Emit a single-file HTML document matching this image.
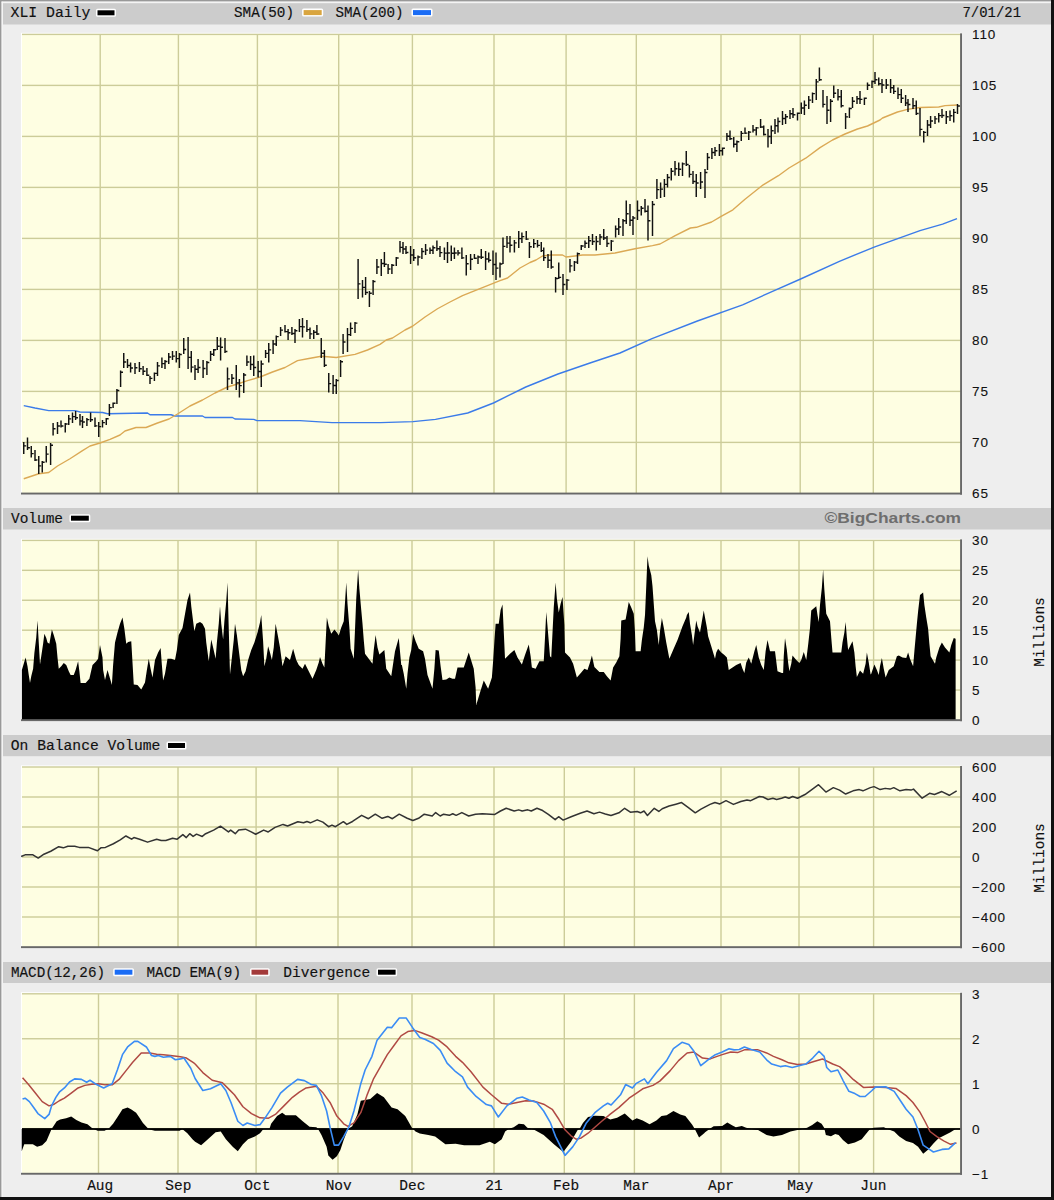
<!DOCTYPE html><html><head><meta charset="utf-8"><style>html,body{margin:0;padding:0;background:#eeeeee;width:1054px;height:1200px;overflow:hidden}svg{display:block}.m{font-family:"Liberation Mono",monospace;font-size:14.5px;fill:#111;stroke:#111;stroke-width:0.15px}.s{font-family:"Liberation Sans",sans-serif;font-size:13.5px;fill:#111;letter-spacing:0.9px;stroke:#111;stroke-width:0.1px}</style></head><body><svg width="1054" height="1200" viewBox="0 0 1054 1200"><rect x="0" y="0" width="1054" height="1200" fill="#eeeeee"/><rect x="0" y="0" width="1054" height="1.6" fill="#999"/><rect x="0" y="0" width="1.6" height="1200" fill="#999"/><rect x="1.6" y="1.6" width="1050" height="1" fill="#f8f8f8"/><rect x="1.6" y="1.6" width="1" height="1196" fill="#f8f8f8"/><rect x="1051" y="0" width="3" height="1200" fill="#111"/><rect x="0" y="1197" width="1054" height="3" fill="#111"/><rect x="3" y="3.2" width="1048" height="21.3" fill="#cccccc"/><rect x="3" y="508" width="1048" height="21.5" fill="#cccccc"/><rect x="3" y="735" width="1048" height="21.2" fill="#cccccc"/><rect x="3" y="962" width="1048" height="21" fill="#cccccc"/><rect x="21" y="32.8" width="940" height="460.6" fill="#fff"/><rect x="22" y="34.4" width="939" height="459" fill="#fefee2"/><rect x="99.5" y="34.4" width="1.4" height="459" fill="#cccc99"/><rect x="177.7" y="34.4" width="1.4" height="459" fill="#cccc99"/><rect x="256.7" y="34.4" width="1.4" height="459" fill="#cccc99"/><rect x="338" y="34.4" width="1.4" height="459" fill="#cccc99"/><rect x="411.7" y="34.4" width="1.4" height="459" fill="#cccc99"/><rect x="493.3" y="34.4" width="1.4" height="459" fill="#cccc99"/><rect x="565.4" y="34.4" width="1.4" height="459" fill="#cccc99"/><rect x="635.6" y="34.4" width="1.4" height="459" fill="#cccc99"/><rect x="720.3" y="34.4" width="1.4" height="459" fill="#cccc99"/><rect x="799.5" y="34.4" width="1.4" height="459" fill="#cccc99"/><rect x="872.6" y="34.4" width="1.4" height="459" fill="#cccc99"/><rect x="22" y="33.7" width="939" height="1.4" fill="#cccc99"/><rect x="22" y="84.7" width="939" height="1.4" fill="#cccc99"/><rect x="22" y="135.7" width="939" height="1.4" fill="#cccc99"/><rect x="22" y="186.7" width="939" height="1.4" fill="#cccc99"/><rect x="22" y="237.7" width="939" height="1.4" fill="#cccc99"/><rect x="22" y="288.7" width="939" height="1.4" fill="#cccc99"/><rect x="22" y="339.7" width="939" height="1.4" fill="#cccc99"/><rect x="22" y="390.7" width="939" height="1.4" fill="#cccc99"/><rect x="22" y="441.7" width="939" height="1.4" fill="#cccc99"/><polyline points="23.75,405.6 35,408 48.75,410.6 75,410.6 80,412 102.5,412.5 107.5,413.75 120,413.5 147.5,413 150,414.75 171,414.75 175,416 202.5,416 205,417.5 232.5,417.5 235,419 253.75,419.4 257,420.6 300,420.6 332,422.6 380.6,422.6 413,421.6 435.5,419.4 467.7,413 493.5,403 525.8,387 558,374 590,363 620,353 652,338.7 697.4,321 742.6,304.8 774.8,290.3 800.6,279 839.4,261.3 874.8,246.8 920,230.6 942.6,224.2 957,218.7" fill="none" stroke="#3b7be9" stroke-width="1.4" stroke-linejoin="round"/><polyline points="23.75,478.75 38.75,473.75 48.75,472.5 57.5,466 70,458.75 82.5,450.6 90,446 100,443 110,439.4 120,435 125,431 136,427.5 146,427.5 157.5,423 169,419 177.5,414 190,406 202.5,400 215,393 227.5,387 237.5,384 247.5,380.6 260,377 272.5,372 285,367.5 297.5,360.6 307.5,358.75 321.25,356.25 336.25,357.5 355,354.4 367.5,350 380,344.4 386.25,340 392.5,338 405,330 412.5,326.25 425,317 437.5,308.75 450,302 462.5,295.6 475,290.6 487.5,285.6 500,280.6 507.5,278 520,268 530,262.5 536,260 542.5,256 551,255 562.5,255 566,257 575,256 582.5,255 595,255 615,253 635,248.75 652.5,245.6 660,244 675.2,235.6 690.4,228 696.4,227.3 711.6,222 720.7,216.7 732.9,209.8 745,199.2 763.2,184.8 778.4,175.7 789,168 805.7,158.2 820,147.6 832.5,140 845,134 857.5,129 867.5,126 880,120 882.5,118 897.5,112 907.5,109.4 920,107.5 938.75,107 945,105.6 957.5,105" fill="none" stroke="#dba955" stroke-width="1.4" stroke-linejoin="round"/><path d="M23.75 442V454M23.75 445.88H26.15M27.5 437.5V450M27.5 447.75H29.9M31.25 446V457.5M31.25 453.62H33.65M35 450V461M35 459.9H37.4M38.75 456V474M38.75 465.87H41.15M42.25 461V472.5M42.25 462.15H44.65M46.25 446V462.5M46.25 454.13H48.65M50.6 443V465M50.6 445.2H53M53.1 423V435.6M53.1 428.65H55.5M57.5 422V434M57.5 426.03H59.9M61 420.6V427.5M61 425.9H63.4M65.25 423V432.5M65.25 423.95H67.65M68.75 415V425M68.75 418.88H71.15M72.5 412.5V423M72.5 416.63H74.9M75.6 411V420M75.6 417.65H78M80 414V425.6M80 420.9H82.4M82.5 416V428M82.5 422H84.9M86.9 418V426M86.9 419.63H89.3M90.6 412.5V422M90.6 419.75H93M95 417.5V427M95 425.87H97.4M98.75 422V437M98.75 426.63H101.15M102.5 420V427.5M102.5 422.63H104.9M106.25 418V425M106.25 418.8H108.65M109.4 404V416M109.4 407.63H111.8M113.1 402.5V408M113.1 403.3H115.5M116.9 389V404M116.9 390.5H119.3M120.6 370.6V387M120.6 372.24H123M123.75 353V368M123.75 362H126.15M127.5 359V368M127.5 365.5H129.9M130.6 362.5V372.5M130.6 368H133M135 363V374M135 367.75H137.4M139.4 362V372M139.4 368.75H141.8M143.1 366V375M143.1 371.25H145.5M146.9 368V376M146.9 375.2H149.3M150 376V384M150 378.38H152.4M154.4 372.5V381M154.4 373.35H156.8M157.5 362V376M157.5 365.88H159.9M161.9 357.5V368M161.9 363.62H164.3M165 360V369M165 361.5H167.4M168.75 353V364M168.75 357H171.15M172.5 351V360M172.5 356.12H174.9M176.25 351V362.5M176.25 358.62H178.65M179.4 353V368M179.4 354.5H181.8M183.75 338V354M183.75 349.5H186.15M188.1 337V369M188.1 357.37H190.5M191.25 351V372.5M191.25 367.12H193.65M195 365V380M195 369.25H197.4M198.1 359V373M198.1 367.5H200.5M203.1 360V378M203.1 368.5H205.5M206.9 361V375M206.9 362.4H209.3M210.6 351V361M210.6 354.25H213M213.75 349V356M213.75 349.8H216.15M217.25 337V350M217.25 346.27H219.65M220.6 337.5V360.6M220.6 347.28H223M225 338V353M225 351.5H227.4M227.5 367.5V390M227.5 378.87H229.9M231.9 374V384M231.9 378.25H234.3M236.25 365V390M236.25 382.87H238.65M239.4 379V397.5M239.4 385.63H241.8M243.75 373V393M243.75 375H246.15M246.9 355.6V366M246.9 361.9H249.3M250.6 356V370M250.6 364.4H253M253.75 355.6V376M253.75 367.52H256.15M258.1 361V377.5M258.1 371.52H260.5M261.25 360.6V387M261.25 363.9H263.65M265.6 350V358M265.6 353.38H268M268.75 343V362.5M268.75 349.88H271.15M273.1 340V354M273.1 343.9H275.5M276.25 335.6V346M276.25 336.64H278.65M280.6 327V336M280.6 330.13H283M285 325V332.5M285 331.62H287.4M288.1 329V340M288.1 332.75H290.5M291.9 327V335M291.9 333.5H294.3M295 329V343M295 330.75H297.4M299.4 319V332M299.4 326.62H301.8M302.5 318V337.5M302.5 326.88H304.9M306.9 320V332M306.9 329.62H309.3M310 327.5V339M310 333.87H312.4M313.75 330V339M313.75 332.25H316.15M316.9 325V335M316.9 334H319.3M321.25 338V358M321.25 353.25H323.65M324.4 350V367M324.4 365.3H326.8M328.75 373V392.5M328.75 383.62H331.15M333.1 375V394M333.1 385.5H335.5M336.25 379V394M336.25 380.5H338.65M340.6 360V377M340.6 361.7H343M343.1 334V354M343.1 342H345.5M347.5 328V352M347.5 334.63H349.9M350.6 322.5V336M350.6 328.38H353M355 322V333M355 323.1H357.4M358.1 259V299M358.1 283.87H360.5M362.5 280V297.5M362.5 287.38H364.9M365.6 277V295M365.6 292.5H368M369.4 291V307M369.4 293.25H371.8M373.1 280V295M373.1 281.5H375.5M376.9 259V274M376.9 267H379.3M381.25 259V276M381.25 263.5H383.65M384.4 252V267M384.4 264.25H386.8M388.1 264V274M388.1 269H390.5M391.9 264V274M391.9 265.25H394.3M396.25 257V266M396.25 257.9H398.65M400 241V252.5M400 247.37H402.4M403 242V254M403 249H405.4M406 246V254M406 252.5H408.4M410.6 246V264M410.6 255H413M413.75 249V261M413.75 257.8H416.15M418 255.6V265.6M418 257.05H420.4M421.9 248V259M421.9 251.5H424.3M425.6 244V255M425.6 250.12H428M430 247.5V254M430 250.28H432.4M433 245.6V254M433 247.8H435.4M436.9 240.6V251M436.9 248.65H439.3M440 246V257M440 252.62H442.4M444.4 247.5V260M444.4 253.13H446.8M447.5 242V263M447.5 252.9H449.9M451.25 245.6V261M451.25 253.28H453.65M454.4 247.5V259M454.4 253.03H456.8M458 250V255.6M458 253.02H460.4M461.9 247.5V259M461.9 257.85H464.3M466.25 255V275.6M466.25 263.65H468.65M470.6 254V270M470.6 259.25H473M474.4 254V259M474.4 258.15H476.8M478 255.6V264M478 256.9H480.4M481.25 249V259M481.25 257.25H483.65M485.6 251V270M485.6 259H488M488.75 252.5V262.5M488.75 260.15H491.15M493 250.6V275M493 264.52H495.4M496 252.5V280M496 268.12H498.4M500 262.5V277.5M500 264H502.4M503 237.5V264M503 246.38H505.4M507 236V248M507 243.12H509.4M510 236V252.5M510 245.25H512.4M514.4 240V252.5M514.4 242.88H516.8M518.75 231V248M518.75 238.63H521.15M521.9 232.5V243M521.9 236.63H524.3M526.25 231V240M526.25 239.1H528.65M529.4 242V258M529.4 246.75H531.8M533.75 239V248M533.75 243.62H536.15M537.5 240V247.5M537.5 245.37H539.9M541.25 242V252M541.25 250.62H543.65M543.75 247.5V261M543.75 257.62H546.15M548 254V268M548 260.34H550.4M551.25 250.6V268.75M551.25 266.94H553.65M555.6 277V292.5M555.6 278.55H558M558.75 262.5V279M558.75 277.35H561.15M563 274V295M563 284.5H565.4M566.9 279V290M566.9 280.1H569.3M570 259V272.5M570 265.87H572.4M574.4 261V271M574.4 262.13H576.8M577.5 252.5V264M577.5 253.65H579.9M581.25 245V250M581.25 245.9H583.65M585 240.6V248M585 243.15H587.4M588.75 236V248M588.75 240.75H591.15M592.5 234V245M592.5 241.4H594.9M596.25 236V250.6M596.25 241.4H598.65M600 234V245M600 237H602.4M603.75 229V240M603.75 238H606.15M607 236V247M607 243.5H609.4M611.25 240V251M611.25 241.1H613.65M615.6 225.6V237.5M615.6 229.03H618M618.75 218V235M618.75 227H621.15M623 219V236M623 220.7H625.4M626.25 200.6V224M626.25 213.65H628.65M630 204V226M630 220.25H632.4M633 216V235M633 217.9H635.4M637.5 200.6V220M637.5 210.55H639.9M641.25 206V215.6M641.25 208.28H643.65M645 199V212.5M645 211.15H647.4M648 205.6V240.6M648 220.8H650.4M652.5 201V236M652.5 204.5H654.9M656.9 179V199M656.9 189.62H659.3M660.6 182.5V198M660.6 189.13H663M664.4 179V197M664.4 184.38H666.8M667.5 174V187.5M667.5 177.53H669.9M671.25 168V180.6M671.25 171.3H673.65M675 161V175.6M675 168.77H677.4M678.75 162.5V176M678.75 169.25H681.15M682.5 162.5V176M682.5 163.88H684.9M686.25 151V166M686.25 164.5H688.65M689.4 165V177.5M689.4 174.37H691.8M693 171V184M693 181.5H695.4M696.25 174V197M696.25 183H698.65M700.6 172V189M700.6 182H703M705 169V198M705 172.5H707.4M707.5 153V170M707.5 157.5H709.9M711.9 148V159M711.9 152.5H714.3M715 147V156M715 150.75H717.4M719.4 144V156M719.4 150.77H721.8M722.5 147.5V155.6M722.5 148.31H724.9M726.9 133V141M726.9 136.15H729.3M730 130.6V140M730 138.77H732.4M733.75 137V147.5M733.75 144.27H736.15M736.9 140.6V152M736.9 141.74H739.3M741.25 131V141M741.25 133.38H743.65M745 127.5V134M745 133.12H747.4M748.75 131V140M748.75 132.13H751.15M753 125V132.5M753 130.02H755.4M756.25 127V135.6M756.25 127.86H758.65M760.6 119V128M760.6 127.05H763M763.75 125.6V135.6M763.75 134.42H766.15M768 129V147.5M768 136.53H770.4M771.25 125.6V144M771.25 130.65H773.65M775 119V134M775 125.75H777.4M778 117.5V132.5M778 121.5H780.4M782.5 111V125M782.5 118.5H784.9M785.6 114V124M785.6 116.75H788M790 110V119M790 113.75H792.4M793 108V118M793 114.77H795.4M797.5 112.5V120.6M797.5 113.31H799.9M801.25 102.5V114M801.25 108.03H803.65M804.4 100.6V115M804.4 105.15H806.8M808.75 96V109M808.75 100.13H811.15M812.5 92.5V103M812.5 93.63H814.9M816.25 79V100M816.25 81.88H818.65M819.4 67.5V81M819.4 79.65H821.8M823 90V107.5M823 104.37H825.4M827 96V124M827 110.25H829.4M830.6 99V122M830.6 101.3H833M833.75 85.6V98M833.75 93.3H836.15M838 89V100.6M838 96.77H840.4M841.25 90V107.5M841.25 105.75H843.65M845.6 113V129M845.6 116.88H848M849.4 107.5V118M849.4 108.55H851.8M852.5 97V108M852.5 101.25H854.9M857 96V104M857 98.75H859.4M860 91V104M860 99.37H862.4M864.4 97.5V105M864.4 98.3H866.8M867.5 82.5V90M867.5 85.28H869.9M872 80.6V88M872 81.4H874.4M875 72V84M875 79.77H877.4M878.75 77.5V85.6M878.75 83.77H881.15M882 79V93M882 85H884.4M886.25 79V89M886.25 85H888.65M890.6 79V93M890.6 87.75H893M893.75 85V94M893.75 91.37H896.15M898 87.5V99M898 94.62H900.4M901.25 89V103M901.25 98.25H903.65M905.6 95V106M905.6 103H908M908 99V112M908 104.5H910.4M913 98V109M913 105.65H915.4M916.25 100.6V115M916.25 113.56H918.65M920 108V136M920 129.37H922.4M923.75 131V142.5M923.75 132.38H926.15M927.5 120V136M927.5 125H929.9M930.6 116V128M930.6 121H933M935 116V124M935 118.88H937.4M938.75 113V122.5M938.75 115.63H941.15M942 109V118M942 115.5H944.4M946.25 111V124M946.25 116.65H948.65M950 110.6V121M950 115.78H952.4M953.75 109V122.5M953.75 112.38H956.15M957.5 104V114M957.5 106H959.9" stroke="#111" stroke-width="1.45" fill="none"/><rect x="960.1" y="33.4" width="1.9" height="461.2" fill="#686868"/><rect x="21" y="492.6" width="941" height="1.9" fill="#686868"/><rect x="21" y="538.8" width="940" height="181.2" fill="#fff"/><rect x="22" y="540.4" width="939" height="179.6" fill="#fefee2"/><rect x="97.8" y="540.4" width="1.4" height="179.6" fill="#cccc99"/><rect x="177.3" y="540.4" width="1.4" height="179.6" fill="#cccc99"/><rect x="255.4" y="540.4" width="1.4" height="179.6" fill="#cccc99"/><rect x="337.3" y="540.4" width="1.4" height="179.6" fill="#cccc99"/><rect x="411.3" y="540.4" width="1.4" height="179.6" fill="#cccc99"/><rect x="493.3" y="540.4" width="1.4" height="179.6" fill="#cccc99"/><rect x="563.6" y="540.4" width="1.4" height="179.6" fill="#cccc99"/><rect x="633.7" y="540.4" width="1.4" height="179.6" fill="#cccc99"/><rect x="720.3" y="540.4" width="1.4" height="179.6" fill="#cccc99"/><rect x="798.3" y="540.4" width="1.4" height="179.6" fill="#cccc99"/><rect x="872.9" y="540.4" width="1.4" height="179.6" fill="#cccc99"/><rect x="22" y="539.7" width="939" height="1.4" fill="#cccc99"/><rect x="22" y="569.63" width="939" height="1.4" fill="#cccc99"/><rect x="22" y="599.56" width="939" height="1.4" fill="#cccc99"/><rect x="22" y="629.49" width="939" height="1.4" fill="#cccc99"/><rect x="22" y="659.42" width="939" height="1.4" fill="#cccc99"/><rect x="22" y="689.35" width="939" height="1.4" fill="#cccc99"/><polygon points="21.88,720 21.88,670 25.62,657.5 27.5,666.25 28.75,675 30,683.12 31.25,676.25 33.12,668.75 34.38,653.12 36.25,637.5 37.5,620.62 38.75,642.5 40,664.38 41.25,656.25 43.12,643.75 44.38,633.75 46.25,638.12 47.5,642.5 49.38,643.75 51.88,629.38 53.75,635 56.25,643.75 57.5,657.5 58.75,668.75 61.25,666.25 63.75,663.12 66.25,665 68.75,671.25 70.62,675 73.75,675 75.62,670 78.12,661.25 79.38,671.25 80.62,683.12 85.62,683.12 89.38,678.75 92.5,665 96.25,661.25 98.12,658.75 100,645 102.5,657.5 103.12,670 105,680 107.5,670 109.38,676.25 111.88,685 113.12,665 115,642.5 117.5,632.5 120,623.75 122.5,617.5 124.38,628.75 126.25,643.75 128.12,641.88 131.25,641.25 132.5,662.5 133.75,684.38 137.5,685 141.25,689.38 145,682.5 146.88,670 148.75,658.75 150.62,668.75 152.5,677.5 155,660 158.12,652.5 160.62,648.12 161.88,665 163.12,680.62 165,673.75 167.5,658.75 171.25,658.75 175,660 176.88,650 178.75,635 182.5,628.12 184.38,617.5 187.5,600 190,592.5 191.25,606.25 193.12,621.25 194.38,631.25 196.25,623.75 200,621.88 202.5,623.75 205,628.75 206.25,642.5 208.75,661.25 211.25,639.38 213.12,647.5 215.62,658.75 216.88,642.5 218.75,623.75 220,606.25 221.25,623.75 223.12,639.38 224.38,621.25 226.25,601.25 227.5,582.5 228.75,628.75 230,674.38 231.88,657.5 233.75,640 235,623.75 236.88,635 238.75,650 241.25,670 243.12,676.25 245.62,671.25 248.12,660 251.25,650 254.38,642.5 257.5,632.5 260,622.5 261.25,615 263.12,641.25 264.38,666.25 266.25,658.75 268.12,646.25 270,652.5 271.88,660 273.75,647.5 275.62,623.75 277.5,633.75 280,647.5 282.5,666.25 285.62,656.25 290,660 293.12,648.75 296.25,660 298.75,665 302.5,668.75 305,663.75 308.75,671.25 312.5,678.75 316.25,670 318.75,662.5 320,656.88 322.5,663.75 324.38,667.5 325.62,642.5 326.88,617.5 328.75,626.25 331.25,633.75 334.38,629.38 336.88,632.5 338.75,635.62 341.25,627.5 343.75,621.25 345,602.5 346.25,582.5 347.5,603.75 349.38,627.5 350.62,648.75 353.75,658.75 355,629.38 356.25,598.75 358.12,569.38 359.38,588.75 361.25,610 362.5,623.75 363.75,640 365,653.75 368.75,658.75 372.5,663.75 373.75,650 375.62,635 377.5,647.5 379.38,654.38 384.38,650 386.25,668.75 391.25,676.25 393.12,663.75 395,651.25 398.75,638.12 401.25,665 401.88,665 403.75,673.75 406.25,688.75 407.5,673.75 409.38,657.5 411.25,650 413.12,633.75 415.62,641.25 418.75,648.75 423.12,651.25 425,658.75 427.5,675 432.5,688.75 434.38,668.75 435.62,650 438.75,650.62 440.62,666.25 442.5,680 446.25,679.38 449.38,677.5 452.5,678.75 455,678.75 457.5,667.5 463.75,667.5 468.75,652.5 473.75,668.75 475.62,687.5 476.25,705 480,692.5 483.75,680.62 488.12,688.75 491.88,677.5 493.12,661.25 494.38,641.25 495.62,623.75 498.75,623.75 500.62,610 502.5,604.38 503.75,631.25 505,658.75 510,653.75 514.38,650 517.5,657.5 521.88,664.38 525,655 528.75,644.38 530.62,656.25 531.88,667.5 535.62,668.75 539.38,661.25 543.75,661.25 545,637.5 546.25,611.88 547.5,626.25 548.75,641.25 550,656.25 551.25,657.5 552.5,632.5 553.75,607.5 555.62,582.5 556.88,598.75 558.75,612.5 560.62,603.75 562.5,596.88 564.38,625 565,652.5 570,657.5 573.12,663.75 576.88,677.5 581.25,672.5 584.38,668.75 587.5,670 590,662.5 591.88,655.62 594.38,666.88 599.38,671.88 603.75,671.88 606.88,676.25 610.62,680.62 613.12,667.5 616.25,662.5 619.38,656.25 620.62,638.75 621.25,620.62 625.62,619.38 628.75,601.88 631.25,607.5 633.75,613.75 635,632.5 635.62,651.25 640.62,651.25 641.88,640 643.75,627.5 645,615 646.25,586.25 647.5,556.25 648.75,565.62 651.25,575 652.5,586.25 653.75,603.75 655,621.25 656.88,630 658.75,645 660,631.25 661.88,618.12 663.75,627.5 666.25,642.5 669.38,658.75 673.12,650 677.5,640 682.5,626.25 686.25,617.5 686.88,615 688.75,611.88 690,623.75 691.88,635 693.12,645 694.38,635 696.25,620.62 697.5,626.25 700,632.5 701.88,621.25 703.75,610.62 705,617.5 706.88,627.5 708.12,636.25 711.25,646.25 715,658.75 716.25,652.5 718.12,648.75 721.25,652.5 724.38,655 726.88,657.5 728.75,670 732.5,667.5 736.25,665 740.62,663.12 742.5,668.75 744.38,673.12 746.25,662.5 748.75,657.5 751.25,663.75 754.38,651.25 756.25,645 758.75,657.5 761.25,665 763.75,670 765.62,651.25 767.5,640 770,651.25 775,651.25 777.5,671.25 781.88,673.12 783.12,673.12 783.75,656.25 785,638.12 786.88,650 788.12,662.5 789.38,671.25 791.25,663.75 792.5,655.62 796.25,660 799.38,663.12 801.25,660 803.75,651.88 806.25,660 808.12,645 810,628.12 811.25,610.62 816.25,606.25 817.5,615 818.75,621.88 820,605 821.88,587.5 823.12,569.38 824.38,590 826.25,613.75 830,621.25 831.25,637.5 832.5,652.5 841.25,652.5 842.5,642.5 844.38,632.5 845.62,621.88 846.88,637.5 848.12,650 852.5,641.25 854.38,652.5 855.62,666.25 856.88,676.88 860,670.62 863.12,673.75 865.62,663.75 866.88,652.5 868.75,662.5 870.62,674.38 871.25,673.75 874.38,664.38 876.88,670 878.75,675 880,666.25 881.88,658.12 883.75,668.75 885.62,677.5 888.75,670 893.75,666.25 896.88,656.25 898.75,655.62 902.5,657.5 906.25,658.12 908.12,652.5 910,658.75 913.12,666.25 914.38,651.25 915.62,637.5 916.88,623.75 918.12,611.25 920,595 923.12,592.5 924.38,605 926.25,617.5 928.12,628.75 929.38,643.75 930.62,656.25 935,663.75 936.25,657.5 939.38,647.5 941.88,642.5 945,647.5 949.38,652.5 951.25,645 953.75,638.12 955.62,638.75 955.62,720" fill="#000"/><rect x="960.1" y="539.4" width="1.9" height="181.8" fill="#686868"/><rect x="21" y="719.2" width="941" height="1.9" fill="#686868"/><rect x="21" y="765.4" width="940" height="181.6" fill="#fff"/><rect x="22" y="767" width="939" height="180" fill="#fefee2"/><rect x="97.8" y="767" width="1.4" height="180" fill="#cccc99"/><rect x="177.3" y="767" width="1.4" height="180" fill="#cccc99"/><rect x="255.4" y="767" width="1.4" height="180" fill="#cccc99"/><rect x="337.3" y="767" width="1.4" height="180" fill="#cccc99"/><rect x="411.3" y="767" width="1.4" height="180" fill="#cccc99"/><rect x="493.3" y="767" width="1.4" height="180" fill="#cccc99"/><rect x="563.6" y="767" width="1.4" height="180" fill="#cccc99"/><rect x="633.7" y="767" width="1.4" height="180" fill="#cccc99"/><rect x="720.3" y="767" width="1.4" height="180" fill="#cccc99"/><rect x="798.3" y="767" width="1.4" height="180" fill="#cccc99"/><rect x="872.9" y="767" width="1.4" height="180" fill="#cccc99"/><rect x="22" y="766.3" width="939" height="1.4" fill="#cccc99"/><rect x="22" y="796.3" width="939" height="1.4" fill="#cccc99"/><rect x="22" y="826.3" width="939" height="1.4" fill="#cccc99"/><rect x="22" y="856.3" width="939" height="1.4" fill="#cccc99"/><rect x="22" y="886.3" width="939" height="1.4" fill="#cccc99"/><rect x="22" y="916.3" width="939" height="1.4" fill="#cccc99"/><polyline points="21.14,856.49 25.69,854.67 32.53,854.67 38.22,858.09 43.92,854.21 50.75,851.25 58.72,846.7 63.28,847.84 67.84,846.24 74.67,846.24 79.23,847.38 88.34,847.38 97.45,850.8 100.87,847.84 105.42,847.38 113.39,843.74 120.23,839.86 125.92,835.99 131.62,839.18 133.9,837.59 139.59,839.18 147.56,842.14 156.67,839.18 161.23,840.55 165.79,840.55 172.62,838.27 177.18,839.18 182.87,834.62 186.29,837.59 189.7,833.71 193.12,836.45 196.54,834.17 202.23,836.45 205.65,833.71 213.62,830.07 220.46,826.2 228.43,831.89 230.71,830.07 235.26,833.71 238.68,830.07 245.51,829.16 251.21,831.89 255.69,834.21 263.67,830.11 268.22,831.94 275.06,827.38 283.03,824.42 287.59,826.01 297.84,821.69 303.53,822.82 306.95,821.46 310.36,822.82 317.2,819.86 322.89,822.14 328.59,826.7 332,825.1 335.42,826.7 343.39,821.69 346.81,824.42 352.51,821.46 361.62,815.31 368.45,818.72 375.28,814.17 382.12,818.27 387.81,816.45 392.37,818.72 399.2,814.17 407.18,818.27 412.87,820.55 418.56,818.27 424.26,814.17 432.23,815.99 435.65,812.57 440.21,815.99 443.62,814.17 449.32,815.31 452.73,813.71 456.15,815.31 461.85,812.57 468.68,815.99 475.51,814.17 482.35,813.71 494.81,814.42 500.5,811 506.2,808.27 514.17,811 518.72,809.86 522.14,811 527.84,809.86 531.25,811 536.95,808.27 542.64,810.55 548.34,814.42 555.17,819.66 558.59,816.7 563.14,820.11 571.12,816.7 580.23,813.28 587.06,811 593.9,813.74 599.59,812.14 605.28,813.96 610.98,815.56 618.95,812.82 624.65,808.27 630.34,812.14 637.18,811.46 640.59,812.82 644.01,811 647.43,815.56 654.26,808.27 658.82,811.46 662.23,808.72 669.07,805.99 675.9,804.17 681.59,802.57 688.43,807.59 695.26,812.82 700.96,809.18 710,804.4 714.93,802.43 719.87,803.91 726.03,800.7 733.43,804.4 740.83,801.44 747,799.96 750.7,800.7 759.33,796.51 763.03,797 767.97,799.47 772.9,798.23 776.6,799.47 781.53,798.23 785.23,797 788.93,798.23 792.63,796.51 797.57,798.23 804.97,794.53 811.13,790.09 818.53,784.67 825.93,792.07 833.33,787.63 839.5,790.09 845.67,794.04 853.07,790.83 859.24,789.6 862.94,790.83 870.34,787.63 874.04,786.64 880.2,789.6 885.14,788.37 890.07,789.11 893.77,787.63 899.94,790.83 906.1,789.6 911.04,790.09 913.5,789.11 922.14,798.23 929.54,793.3 934.47,794.53 941.87,791.57 949.27,795.27 956.67,790.83" fill="none" stroke="#333" stroke-width="1.5" stroke-linejoin="round"/><rect x="960.1" y="766" width="1.9" height="182.2" fill="#686868"/><rect x="21" y="946.2" width="941" height="1.9" fill="#686868"/><rect x="21" y="992.2" width="940" height="181.4" fill="#fff"/><rect x="22" y="993.8" width="939" height="179.8" fill="#fefee2"/><rect x="97.8" y="993.8" width="1.4" height="179.8" fill="#cccc99"/><rect x="177.3" y="993.8" width="1.4" height="179.8" fill="#cccc99"/><rect x="255.4" y="993.8" width="1.4" height="179.8" fill="#cccc99"/><rect x="337.3" y="993.8" width="1.4" height="179.8" fill="#cccc99"/><rect x="411.3" y="993.8" width="1.4" height="179.8" fill="#cccc99"/><rect x="493.3" y="993.8" width="1.4" height="179.8" fill="#cccc99"/><rect x="563.6" y="993.8" width="1.4" height="179.8" fill="#cccc99"/><rect x="633.7" y="993.8" width="1.4" height="179.8" fill="#cccc99"/><rect x="720.3" y="993.8" width="1.4" height="179.8" fill="#cccc99"/><rect x="798.3" y="993.8" width="1.4" height="179.8" fill="#cccc99"/><rect x="872.9" y="993.8" width="1.4" height="179.8" fill="#cccc99"/><rect x="22" y="993.1" width="939" height="1.4" fill="#cccc99"/><rect x="22" y="1038.05" width="939" height="1.4" fill="#cccc99"/><rect x="22" y="1083" width="939" height="1.4" fill="#cccc99"/><rect x="22" y="1127.95" width="939" height="1.4" fill="#cccc99"/><polygon points="21.71,1129 21.71,1151.13 24.27,1144.3 32.81,1144.3 37.08,1146.86 42.2,1145.15 46.47,1140.88 49.03,1134.9 51.59,1128.93 56.71,1121.24 60.13,1119.54 66.11,1118.17 71.23,1116.46 76.35,1119.88 81.48,1122.61 87.45,1124.32 92.58,1128.42 97.7,1130.64 104.53,1130.64 108.8,1128.42 113.07,1123.8 118.19,1116.12 122.46,1109.29 127.58,1107.58 131,1109.29 136.12,1112.7 139.54,1117.83 142.95,1122.95 148.07,1128.42 149.78,1129.44 154.9,1130.64 160.03,1130.64 179.67,1130.64 182.23,1128.93 187.35,1133.2 192.47,1139.17 195.12,1141.73 201.1,1145.15 207.08,1140.03 215.61,1132.34 220.74,1131.49 225.86,1139.17 232.69,1146.86 237.81,1151.13 242.94,1144.3 248.06,1139.17 254.89,1136.61 260.01,1133.2 263.43,1128.93 269.41,1128.93 271.11,1123.8 277.09,1116.12 282.21,1112.7 285.63,1115.27 295.87,1115.27 302.7,1121.24 309.54,1126.71 316.37,1127.22 318.07,1128.93 321.49,1134.9 326.61,1146.86 328.32,1155.4 332.59,1159.67 336.86,1156.25 340.27,1150.27 343.69,1140.03 347.96,1128.93 352.23,1126.37 357.35,1114.41 360.77,1100.75 370.25,1099.04 377.08,1093.07 383.91,1097.34 391.59,1107.58 397.57,1109.29 405.25,1116.12 412.08,1128.07 415.5,1131.49 419.77,1133.54 428.31,1134.9 435.14,1136.61 445.38,1144.3 455.63,1143.78 464.17,1145.15 479.54,1145.15 489.78,1141.73 494.9,1144.3 501.73,1139.17 505.15,1131.49 508.57,1128.93 513.69,1127.22 518.81,1123.8 523.93,1124.32 527.35,1127.73 534.18,1129.78 543.66,1134.9 553.91,1144.3 563.3,1151.98 570.98,1141.73 577.81,1129.78 579.52,1128.93 582.94,1122.95 588.06,1116.97 594.89,1115.78 603.43,1116.12 610.26,1119.54 617.09,1117.83 624.77,1113.56 632.46,1120.39 636.73,1118.17 642.7,1120.39 649.54,1124.32 656.37,1120.39 661.49,1116.12 666.61,1115.27 673.44,1111 680.27,1114.41 685.4,1116.12 692.23,1124.66 694.79,1128.93 699.06,1137.47 704.18,1133.2 705.12,1132.34 710.25,1128.42 713.66,1126.37 722.2,1126.02 727.32,1122.61 732.45,1125.51 735.86,1127.22 741.84,1126.02 746.11,1127.73 751.23,1128.93 758.06,1130.12 766.6,1134.9 773.43,1136.61 781.97,1134.9 790.51,1131.49 797.34,1130.12 802.46,1128.93 807.08,1127.73 812.2,1125 817.32,1121.24 821.59,1123.8 824.15,1127.73 825.86,1134.9 830.98,1136.27 835.25,1134.05 838.67,1134.9 842.94,1140.03 848.06,1144.3 854.89,1142.59 861.72,1139.17 865.14,1134.9 869.41,1129.78 873.67,1127.73 883.92,1127.22 887.34,1128.93 894.17,1131.49 899.29,1136.61 906.12,1140.88 912.95,1143.1 918.07,1146.86 923.2,1153.69 928.32,1149.42 933.44,1143.44 938.57,1138.32 943.69,1135.76 950.52,1132.34 955.64,1128.93 955.64,1129" fill="#000"/><rect x="22" y="1128.1" width="939" height="1.8" fill="#000"/><polyline points="22.56,1077.7 28.54,1084.53 35.37,1093.07 42.2,1101.61 49.03,1105.87 54.15,1104.17 59.28,1100.75 64.4,1098.19 71.23,1093.07 78.06,1087.94 84.89,1085.38 91.72,1084.19 98.55,1083.67 105.38,1084.87 112.21,1084.87 119.04,1079.41 125.87,1070.87 132.7,1062.33 141.24,1052.94 149.78,1052.94 156.61,1054.3 163.44,1054.64 170.27,1055.5 180.52,1056.69 186.5,1058.06 194.18,1063.18 195.12,1064.04 202.81,1072.58 212.2,1080.26 222.45,1082.82 229.28,1089.65 234.4,1094.77 242.94,1106.73 251.48,1113.56 260.01,1117.83 268.55,1118.17 275.38,1114.41 283.92,1105.87 292.46,1097.34 299.29,1092.21 306.12,1087.94 316.37,1086.24 323.2,1093.07 330.03,1102.46 336.86,1116.12 343.69,1123.8 347.96,1126.37 353.93,1122.95 360.77,1112.7 366.83,1095.63 373.66,1078.55 380.49,1066.6 387.32,1054.64 394.15,1045.25 400.98,1035.86 407.81,1031.59 414.64,1030.4 421.48,1032.79 431.72,1036.71 438.55,1040.13 447.09,1046.96 455.63,1056.35 462.46,1062.33 471,1071.72 482.95,1087.09 491.49,1094.77 501.73,1103.31 508.57,1104.17 517.1,1102.46 525.64,1100.75 534.18,1101.09 543.66,1104.17 552.2,1109.29 559.03,1119.54 565.01,1129.78 570.98,1135.76 576.11,1139.17 581.23,1137.98 588.06,1133.2 594.89,1127.22 601.72,1121.24 610.26,1114.07 618.8,1107.58 629.04,1098.19 635.87,1093.58 642.7,1088.8 652.95,1085.38 659.78,1081.11 670.03,1070.87 678.57,1060.62 687.1,1052.94 693.93,1052.08 702.47,1058.06 710.25,1058.91 717.08,1056.35 722.2,1054.64 730.74,1052.08 737.57,1052.6 744.4,1049.86 751.23,1049.86 758.06,1049.86 766.6,1052.94 773.43,1056.35 781.97,1059.77 788.8,1062.84 797.34,1064.55 805.87,1064.04 813.91,1061.48 822.45,1058.91 827.57,1061.48 832.69,1064.04 839.52,1066.6 844.64,1070.87 853.18,1079.41 863.43,1087.43 873.67,1087.09 885.63,1087.43 895.87,1088.46 906.12,1095.63 912.95,1102.46 919.78,1111.85 924.9,1121.24 930.03,1131.49 936.86,1136.61 943.69,1140.88 950.52,1144.3 956.5,1143.1" fill="none" stroke="#b04a44" stroke-width="1.5" stroke-linejoin="round"/><polyline points="22.56,1099.04 25.12,1098.19 29.39,1101.61 33.66,1107.58 37.93,1113.56 44.76,1118.68 49.03,1114.41 51.59,1105.87 55.86,1097.34 59.28,1092.21 64.4,1087.94 69.52,1081.97 74.64,1078.89 81.48,1079.41 86.6,1082.31 90.01,1080.26 95.14,1083.67 103.67,1087.94 107.09,1086.24 112.21,1083.67 117.34,1070.01 122.46,1054.64 127.58,1046.96 134.41,1041.33 137.83,1041.33 146.37,1046.96 151.49,1055.5 154.9,1056.35 158.32,1055.5 163.44,1057.21 170.27,1056.35 175.4,1059.77 180.52,1058.91 183.93,1058.06 190.77,1068.31 195.12,1078.55 202.81,1090.51 210.49,1088.8 220.74,1083.67 225.86,1090.51 230.98,1102.46 237.81,1121.24 242.94,1125.51 247.21,1122.95 254.89,1125.51 260.01,1124.66 265.14,1117.83 271.97,1107.58 280.51,1093.07 287.34,1087.09 297.58,1079.41 304.41,1080.6 311.24,1084.53 316.37,1085.38 321.49,1095.63 326.61,1111 330.03,1127.22 334.3,1145.15 338.57,1145.15 343.69,1136.61 348.81,1127.22 353.93,1111 360.77,1083.67 365.12,1070.01 371.95,1056.35 377.08,1040.13 387.32,1027.32 391.59,1027.66 399.28,1017.93 406.11,1017.93 412.94,1028.18 419.77,1037.57 424.89,1039.28 433.43,1043.55 440.26,1050.38 447.09,1063.18 455.63,1071.72 462.46,1076.84 467.58,1087.09 476.12,1096.48 486.37,1104.51 491.49,1105.87 498.32,1116.97 506.86,1105.87 510.27,1103.31 517.1,1098.19 522.23,1096.99 529.06,1099.9 536.83,1102.46 543.66,1111 550.49,1122.95 555.61,1136.61 560.74,1146.86 565.01,1155.4 572.69,1146.86 579.52,1136.61 586.35,1122.95 594.89,1112.7 603.43,1105.87 607.7,1103.31 611.11,1105.02 620.51,1094.77 625.63,1084.53 632.46,1087.94 635.87,1083.67 644.41,1078.89 647.83,1083.67 656.37,1072.58 666.61,1060.62 673.44,1048.67 681.98,1042.35 688.81,1044.4 693.93,1051.23 700.77,1065.74 710.25,1058.06 715.37,1054.64 722.2,1052.08 729.03,1048.67 734.15,1049.86 739.28,1049.52 744.4,1046.96 751.23,1049.52 759.77,1052.08 766.6,1059.77 771.72,1064.04 780.26,1066.6 785.38,1065.74 792.21,1067.45 799.04,1065.74 805.87,1064.04 812.7,1058.06 819.03,1051.23 824.15,1056.35 826.71,1067.45 830.98,1071.72 837.81,1070.01 842.94,1080.26 848.91,1091.36 854.89,1093.58 860.01,1096.48 865.14,1096.48 871.97,1090.51 875.38,1087.09 885.63,1086.75 894.17,1091.36 899.29,1099.04 906.12,1109.29 912.95,1116.97 918.07,1129.78 923.2,1145.15 928.32,1148.57 933.44,1151.98 941.98,1149.42 948.81,1148.91 955.64,1142.59" fill="none" stroke="#3a8cf5" stroke-width="1.6" stroke-linejoin="round"/><rect x="960.1" y="992.8" width="1.9" height="182" fill="#686868"/><rect x="21" y="1172.8" width="941" height="1.9" fill="#686868"/><text class="m" x="10.5" y="16.9" textLength="80" lengthAdjust="spacingAndGlyphs">XLI Daily</text><rect x="96" y="8.8" width="20" height="8" rx="1.5" fill="#fff"/><rect x="97.5" y="10.3" width="17" height="5" fill="#000"/><text class="m" x="234" y="16.9" textLength="60" lengthAdjust="spacingAndGlyphs">SMA(50)</text><rect x="302.1" y="8.6" width="21.1" height="8" rx="1.5" fill="#fff"/><rect x="303.6" y="10.1" width="18.1" height="5" fill="#d9a53f"/><text class="m" x="335.5" y="16.9" textLength="68" lengthAdjust="spacingAndGlyphs">SMA(200)</text><rect x="411.5" y="8.6" width="21" height="8" rx="1.5" fill="#fff"/><rect x="413" y="10.1" width="18" height="5" fill="#1a6cf5"/><text class="m" x="962.5" y="16.9" textLength="58.5" lengthAdjust="spacingAndGlyphs">7/01/21</text><text class="m" x="11" y="522.9" textLength="52" lengthAdjust="spacingAndGlyphs">Volume</text><rect x="69.5" y="514.2" width="20.8" height="8" rx="1.5" fill="#fff"/><rect x="71" y="515.7" width="17.8" height="5" fill="#000"/><text x="824.5" y="523.2" textLength="136.5" lengthAdjust="spacingAndGlyphs" style="font-family:'Liberation Sans',sans-serif;font-weight:bold;font-size:14px;fill:#6e6e6e">&#169;BigCharts.com</text><text class="m" x="10.8" y="749.9" textLength="149.5" lengthAdjust="spacingAndGlyphs">On Balance Volume</text><rect x="166.5" y="741.5" width="20" height="8" rx="1.5" fill="#fff"/><rect x="168" y="743" width="17" height="5" fill="#000"/><text class="m" x="11" y="977.1" textLength="94" lengthAdjust="spacingAndGlyphs">MACD(12,26)</text><rect x="113.2" y="968.2" width="20.7" height="8" rx="1.5" fill="#fff"/><rect x="114.7" y="969.7" width="17.7" height="5" fill="#1a6cf5"/><text class="m" x="146.5" y="977.1" textLength="94.5" lengthAdjust="spacingAndGlyphs">MACD EMA(9)</text><rect x="250" y="968.2" width="19.7" height="8" rx="1.5" fill="#fff"/><rect x="251.5" y="969.7" width="16.7" height="5" fill="#a33a3a"/><text class="m" x="283.3" y="977.1" textLength="87" lengthAdjust="spacingAndGlyphs">Divergence</text><rect x="376.5" y="968.2" width="20.6" height="8" rx="1.5" fill="#fff"/><rect x="378" y="969.7" width="17.6" height="5" fill="#000"/><text class="s" x="972" y="39.4">110</text><text class="s" x="972" y="90.4">105</text><text class="s" x="972" y="141.4">100</text><text class="s" x="972" y="192.4">95</text><text class="s" x="972" y="243.4">90</text><text class="s" x="972" y="294.4">85</text><text class="s" x="972" y="345.4">80</text><text class="s" x="972" y="396.4">75</text><text class="s" x="972" y="447.4">70</text><text class="s" x="972" y="498.4">65</text><text class="s" x="972" y="545">30</text><text class="s" x="972" y="575">25</text><text class="s" x="972" y="605">20</text><text class="s" x="972" y="635">15</text><text class="s" x="972" y="665">10</text><text class="s" x="972" y="695">5</text><text class="s" x="972" y="725">0</text><text class="s" x="972" y="772">600</text><text class="s" x="972" y="802">400</text><text class="s" x="972" y="832">200</text><text class="s" x="972" y="862">0</text><text class="s" x="972" y="892">&#8722;200</text><text class="s" x="972" y="922">&#8722;400</text><text class="s" x="972" y="952">&#8722;600</text><text class="s" x="972" y="999">3</text><text class="s" x="972" y="1044">2</text><text class="s" x="972" y="1089">1</text><text class="s" x="972" y="1134">0</text><text class="s" x="972" y="1179">&#8722;1</text><text class="m" transform="translate(1044,632) rotate(-90)" text-anchor="middle">Millions</text><text class="m" transform="translate(1044,858) rotate(-90)" text-anchor="middle">Millions</text><text class="m" x="100.2" y="1190" text-anchor="middle">Aug</text><text class="m" x="178.4" y="1190" text-anchor="middle">Sep</text><text class="m" x="257.4" y="1190" text-anchor="middle">Oct</text><text class="m" x="338.7" y="1190" text-anchor="middle">Nov</text><text class="m" x="412.4" y="1190" text-anchor="middle">Dec</text><text class="m" x="494" y="1190" text-anchor="middle">21</text><text class="m" x="566.1" y="1190" text-anchor="middle">Feb</text><text class="m" x="636.3" y="1190" text-anchor="middle">Mar</text><text class="m" x="721" y="1190" text-anchor="middle">Apr</text><text class="m" x="800.2" y="1190" text-anchor="middle">May</text><text class="m" x="873.3" y="1190" text-anchor="middle">Jun</text></svg></body></html>
